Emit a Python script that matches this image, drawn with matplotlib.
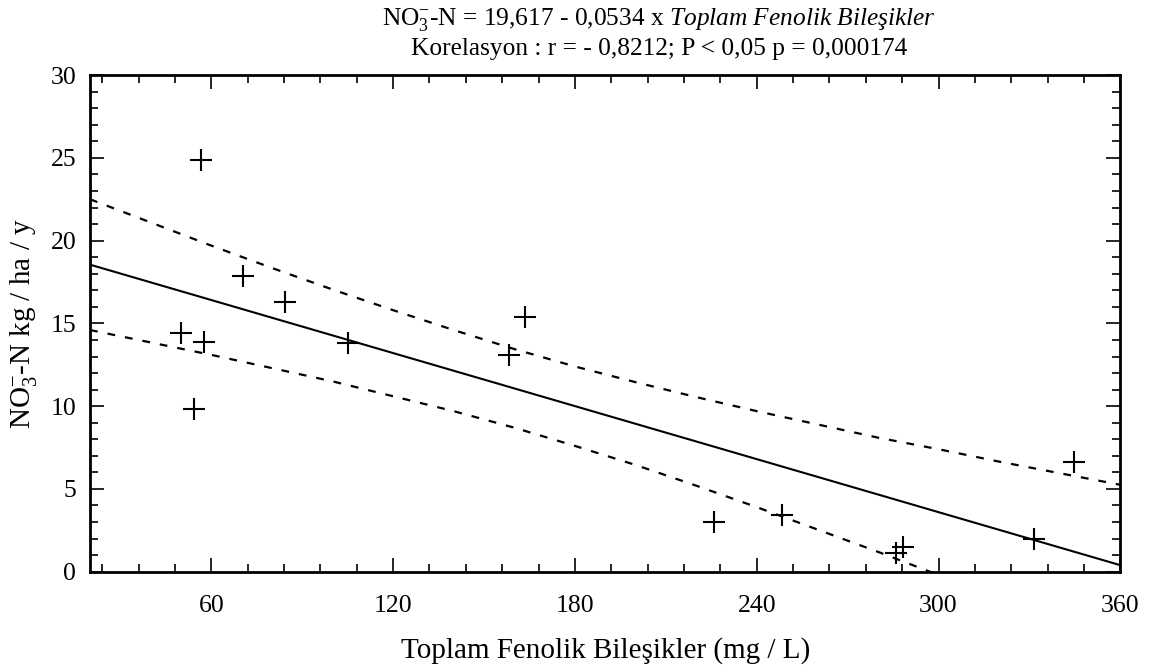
import matplotlib.pyplot as plt
import numpy as np
from matplotlib.ticker import MultipleLocator

plt.rcParams['font.family'] = ['Liberation Serif', 'DejaVu Serif']
plt.rcParams['mathtext.fontset'] = 'custom'
plt.rcParams['mathtext.rm'] = 'Liberation Serif'
plt.rcParams['mathtext.it'] = 'Liberation Serif:italic'
plt.rcParams['mathtext.bf'] = 'Liberation Serif:bold'

# Toplam fenolik bilesikler (mg/L) vs NO3-N (kg/ha/y)
phenolics = np.array([56.6, 70.5, 84.3, 50.0, 57.6, 105.2, 54.3, 163.6, 158.3,
                      225.8, 248.3, 288.2, 285.9, 331.6, 344.7])
no3_n = np.array([24.9, 17.85, 16.3, 14.45, 13.9, 13.8, 9.8, 15.4, 13.1,
                  3.0, 3.4, 1.5, 1.1, 2.0, 6.65])

# fit from the title: NO3-N = 19,617 - 0,0534 x
intercept = 19.617
slope = -0.0534

# 95% band, read at these x positions
band_x = np.array([20, 40, 60, 80, 100, 120, 140, 160, 180, 200, 220, 240,
                   260, 280, 300, 320, 340, 360])
band_upper = np.array([22.5, 21.1, 19.7, 18.35, 17.05, 15.8, 14.6, 13.45, 12.4,
                       11.45, 10.55, 9.7, 8.9, 8.1, 7.4, 6.65, 5.95, 5.25])
band_lower = np.array([14.6, 13.85, 13.1, 12.3, 11.5, 10.6, 9.7, 8.7, 7.6,
                       6.45, 5.2, 3.9, 2.55, 1.2, -0.2, -1.6, -3.0, -4.4])

xmin, xmax = 20, 360

fig = plt.figure(figsize=(11.55, 6.71), dpi=100)
ax = fig.add_axes([0.078, 0.148, 0.892, 0.740])

fit_x = np.array([xmin, xmax])
ax.plot(fit_x, intercept + slope * fit_x, color='black', lw=1.5)
ax.plot(band_x, band_upper, color='black', lw=1.6, linestyle=(0, (3.5, 4.5)))
ax.plot(band_x, band_lower, color='black', lw=1.6, linestyle=(0, (3.5, 4.5)))
ax.plot(phenolics, no3_n, linestyle='none', marker='+', color='black',
        markersize=16, markeredgewidth=1.5)

ax.set_xlim(xmin, xmax)
ax.set_ylim(0, 30)
ax.xaxis.set_major_locator(MultipleLocator(60))
ax.xaxis.set_minor_locator(MultipleLocator(12))
ax.yaxis.set_major_locator(MultipleLocator(5))
ax.yaxis.set_minor_locator(MultipleLocator(1))
ax.tick_params(which='both', direction='in', top=True, right=True,
               labelsize=18.5, width=1.2)
ax.tick_params(which='major', length=10)
ax.tick_params(which='minor', length=6)
ax.tick_params(axis='x', which='major', pad=17)
ax.tick_params(axis='y', which='major', pad=10)
for s in ax.spines.values():
    s.set_linewidth(2)

ax.set_xlabel('Toplam Fenolik Bileşikler (mg / L)', fontsize=21, labelpad=14)
ax.set_ylabel(r'NO$_3^{-}$-N kg / ha / y', fontsize=21, labelpad=8)
# title sits a bit right of the axes centre in the original
ax.text(0.552, 1.03, r'NO$_3^{-}$-N = 19,617 - 0,0534 x $\mathit{Toplam\ Fenolik\ Bileşikler}$'
        '\nKorelasyon : r = - 0,8212; P < 0,05 p = 0,000174',
        transform=ax.transAxes, ha='center', va='bottom', fontsize=18.3,
        linespacing=1.3, multialignment='center')

plt.savefig('out.png')
